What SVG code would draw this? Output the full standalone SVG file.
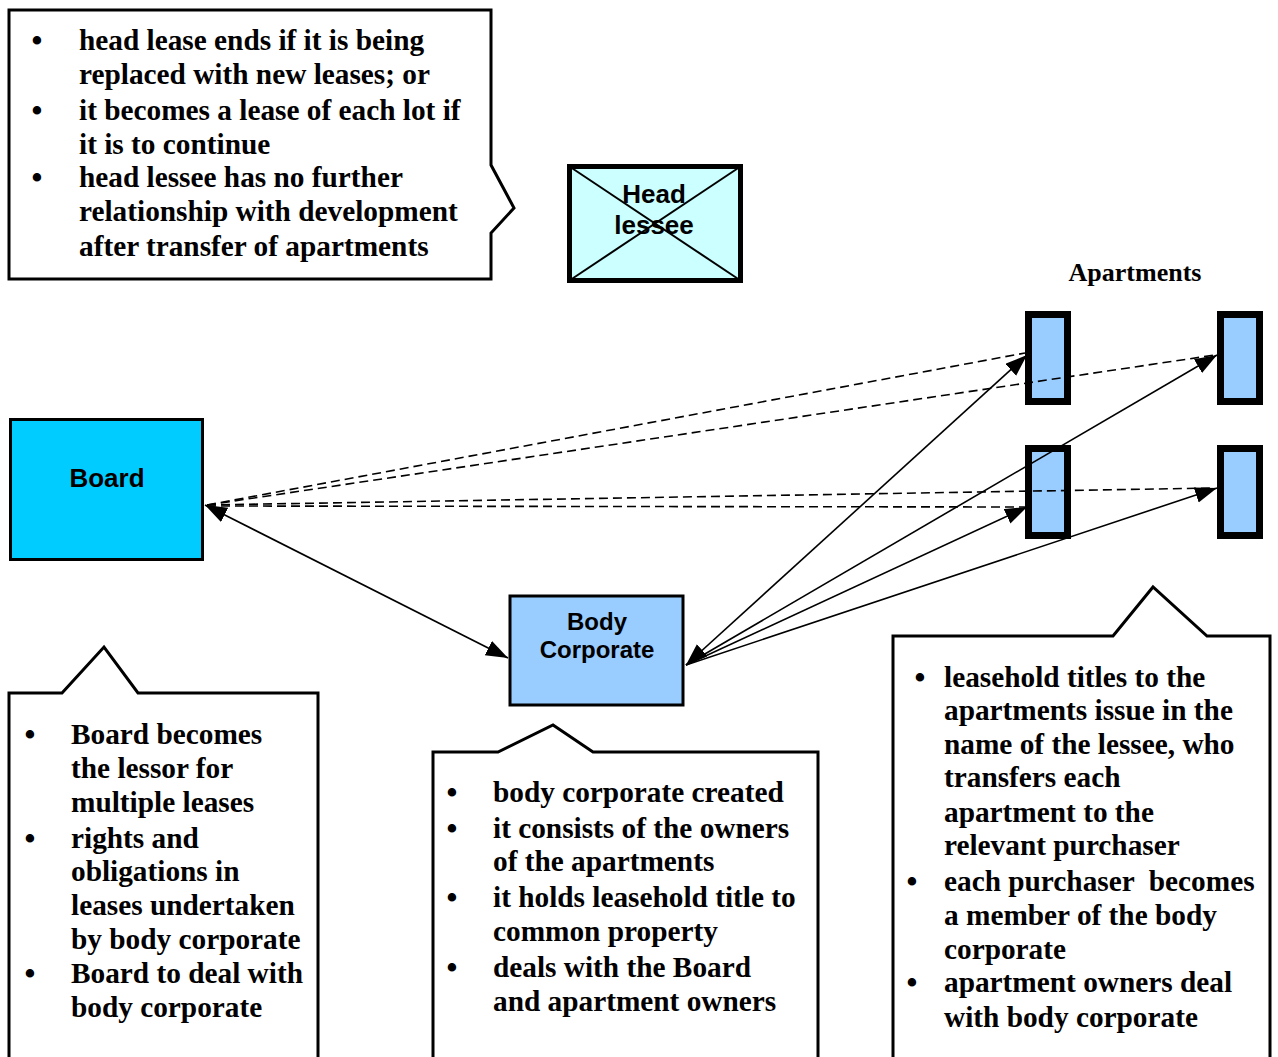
<svg xmlns="http://www.w3.org/2000/svg" width="1278" height="1057" viewBox="0 0 1278 1057">
<style>
.callout{fill:#fff;stroke:#000;stroke-width:3;stroke-linejoin:miter}
.note{font-family:"Liberation Serif","Times New Roman",serif;font-weight:bold;font-size:29.3px;fill:#000}
.bul{font-family:"Liberation Serif","Times New Roman",serif;font-weight:bold;font-size:31px;fill:#000;text-anchor:middle}
.lbl{font-family:"Liberation Sans",Arial,sans-serif;font-weight:bold;fill:#000;text-anchor:middle}
.apt{fill:#99CCFF;stroke:#000;stroke-width:7}
.solid{stroke:#000;stroke-width:1.6;fill:none}
.dash{stroke:#000;stroke-width:1.6;fill:none;stroke-dasharray:9 5}
</style>
<defs>
<marker id="arr" markerUnits="userSpaceOnUse" markerWidth="24" markerHeight="18" refX="22" refY="8" orient="auto-start-reverse">
<path d="M0,0 L22,8 L0,16 z" fill="#000"/>
</marker>
</defs>

<g id="callout-headlease">
<path class="callout" d="M9,10 H491 V165 L514,208 L491,233 V279 H9 Z"/>
<text class="bul" x="37" y="51">•</text><text class="note" x="79" y="50">head lease ends if it is being</text>
<text class="note" x="79" y="84">replaced with new leases; or</text>
<text class="bul" x="37" y="121">•</text><text class="note" x="79" y="120">it becomes a lease of each lot if</text>
<text class="note" x="79" y="154">it is to continue</text>
<text class="bul" x="37" y="188">•</text><text class="note" x="79" y="187">head lessee has no further</text>
<text class="note" x="79" y="221">relationship with development</text>
<text class="note" x="79" y="256">after transfer of apartments</text>
</g>

<g id="head-lessee">
<rect x="569.5" y="166.5" width="171" height="114" fill="#CCFFFF" stroke="#000" stroke-width="5"/>
<line x1="569.5" y1="166.5" x2="740.5" y2="280.5" stroke="#000" stroke-width="2"/>
<line x1="740.5" y1="166.5" x2="569.5" y2="280.5" stroke="#000" stroke-width="2"/>
<text class="lbl" x="654" y="203" font-size="26">Head</text>
<text class="lbl" x="654" y="234" font-size="26">lessee</text>
</g>

<g id="apartments-label">
<text x="1135" y="281" font-family="Liberation Serif, Times New Roman, serif" font-weight="bold" font-size="26" text-anchor="middle">Apartments</text>
</g>

<g id="apt1"><rect class="apt" x="1028.5" y="314.5" width="39" height="87"/></g>
<g id="apt2"><rect class="apt" x="1220.5" y="314.5" width="39" height="87"/></g>
<g id="apt3"><rect class="apt" x="1028.5" y="448.5" width="39" height="87"/></g>
<g id="apt4"><rect class="apt" x="1220.5" y="448.5" width="39" height="87"/></g>

<g id="board">
<rect x="10.5" y="419.5" width="192" height="140" fill="#00CCFF" stroke="#000" stroke-width="3"/>
<text class="lbl" x="107" y="487" font-size="26">Board</text>
</g>

<g id="body-corporate">
<rect x="510" y="596" width="173" height="109" fill="#99CCFF" stroke="#000" stroke-width="3"/>
<text class="lbl" x="597" y="630" font-size="24">Body</text>
<text class="lbl" x="597" y="658" font-size="24">Corporate</text>
</g>

<g id="connectors">
<line class="dash" x1="207" y1="505" x2="1025" y2="353"/>
<line class="dash" x1="207" y1="505" x2="1215" y2="355"/>
<line class="dash" x1="207" y1="505" x2="1215" y2="488"/>
<line class="dash" x1="207" y1="506" x2="1025" y2="507"/>
<line class="solid" x1="205" y1="505" x2="508" y2="658" marker-start="url(#arr)" marker-end="url(#arr)"/>
<line class="solid" x1="686" y1="665" x2="1027" y2="355" marker-start="url(#arr)" marker-end="url(#arr)"/>
<line class="solid" x1="686" y1="665" x2="1217" y2="355" marker-end="url(#arr)"/>
<line class="solid" x1="686" y1="665" x2="1027" y2="507" marker-end="url(#arr)"/>
<line class="solid" x1="686" y1="665" x2="1217" y2="488" marker-end="url(#arr)"/>
</g>

<g id="callout-board">
<path class="callout" d="M9,1060 V693 H62 L104,647 L138,693 H318 V1060"/>
<text class="bul" x="30" y="745">•</text><text class="note" x="71" y="744">Board becomes</text>
<text class="note" x="71" y="778">the lessor for</text>
<text class="note" x="71" y="812">multiple leases</text>
<text class="bul" x="30" y="849">•</text><text class="note" x="71" y="848">rights and</text>
<text class="note" x="71" y="881">obligations in</text>
<text class="note" x="71" y="915">leases undertaken</text>
<text class="note" x="71" y="949">by body corporate</text>
<text class="bul" x="30" y="984">•</text><text class="note" x="71" y="983">Board to deal with</text>
<text class="note" x="71" y="1017">body corporate</text>
</g>

<g id="callout-bodycorp">
<path class="callout" d="M433,1060 V752 H498 L553,725 L593,752 H818 V1060"/>
<text class="bul" x="452" y="803">•</text><text class="note" x="493" y="802">body corporate created</text>
<text class="bul" x="452" y="839">•</text><text class="note" x="493" y="838">it consists of the owners</text>
<text class="note" x="493" y="871">of the apartments</text>
<text class="bul" x="452" y="908">•</text><text class="note" x="493" y="907">it holds leasehold title to</text>
<text class="note" x="493" y="941">common property</text>
<text class="bul" x="452" y="978">•</text><text class="note" x="493" y="977">deals with the Board</text>
<text class="note" x="493" y="1011">and apartment owners</text>
</g>

<g id="callout-apartments">
<path class="callout" d="M893,1060 V636 H1113 L1153,587 L1207,636 H1270 V1060"/>
<text class="bul" x="920" y="688">•</text><text class="note" x="944" y="687">leasehold titles to the</text>
<text class="note" x="944" y="720">apartments issue in the</text>
<text class="note" x="944" y="754">name of the lessee, who</text>
<text class="note" x="944" y="787">transfers each</text>
<text class="note" x="944" y="822">apartment to the</text>
<text class="note" x="944" y="855">relevant purchaser</text>
<text class="bul" x="912" y="892">•</text><text class="note" x="944" y="891" xml:space="preserve">each purchaser  becomes</text>
<text class="note" x="944" y="925">a member of the body</text>
<text class="note" x="944" y="959">corporate</text>
<text class="bul" x="912" y="993">•</text><text class="note" x="944" y="992">apartment owners deal</text>
<text class="note" x="944" y="1027">with body corporate</text>
</g>
</svg>
